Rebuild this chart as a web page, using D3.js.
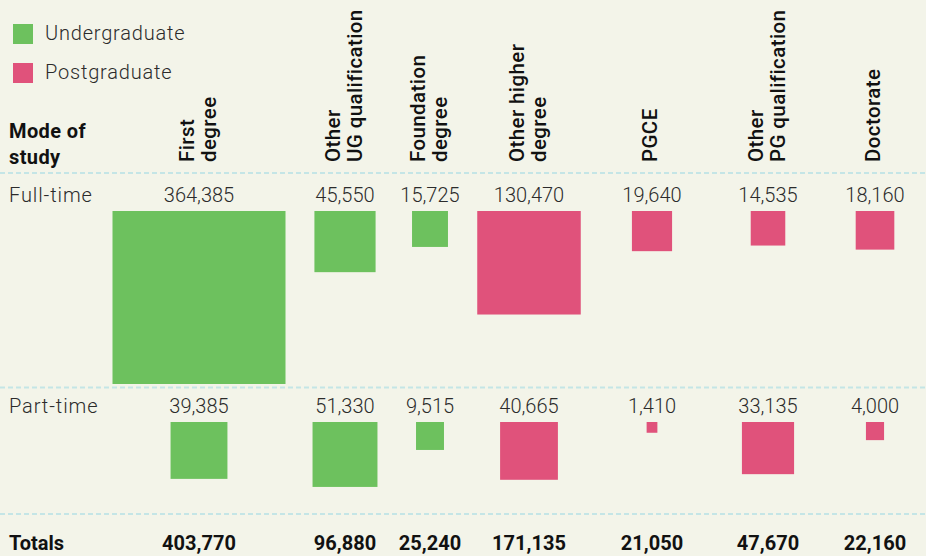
<!DOCTYPE html>
<html>
<head>
<meta charset="utf-8">
<script src="https://cdn.jsdelivr.net/npm/d3@7"></script>
<style>
  html, body { margin: 0; padding: 0; background: #f3f4e9; }
  svg { display: block; font-family: Roboto, "Noto Sans", sans-serif; }
</style>
</head>
<body>
<svg id="chart" width="926" height="556"></svg>
<script>
// data
const categories = ["First degree", "Other UG qualification", "Foundation degree",
  "Other higher degree", "PGCE", "Other PG qualification", "Doctorate"];
const headerLines = [["First", "degree"], ["Other", "UG qualification"], ["Foundation", "degree"],
  ["Other higher", "degree"], ["PGCE"], ["Other", "PG qualification"], ["Doctorate"]];
const levels = ["Undergraduate", "Undergraduate", "Undergraduate",
  "Postgraduate", "Postgraduate", "Postgraduate", "Postgraduate"];
const fullTime = [364385, 45550, 15725, 130470, 19640, 14535, 18160];
const partTime = [39385, 51330, 9515, 40665, 1410, 33135, 4000];
const totals = [403770, 96880, 25240, 171135, 21050, 47670, 22160];
const legendKeys = ["Undergraduate", "Postgraduate"];

const width = 926, height = 556;
const svg = d3.select("#chart");
const fmt = d3.format(",");

const color = d3.scaleOrdinal().domain(legendKeys).range(["#6dc15e", "#e0527b"]);

// column centres (uneven spacing as in the original table)
const x = d3.scaleOrdinal().domain(categories)
  .range([199, 345, 430, 529, 652, 768, 875]);

const side = d3.scaleSqrt()
  .domain([0, d3.max(fullTime.concat(partTime))])
  .range([0, 173]);

const rows = [
  { name: "Full-time", values: fullTime, labelY: 202, top: 211 },
  { name: "Part-time", values: partTime, labelY: 413, top: 422 }
];

// legend
const legend = svg.append("g").selectAll("g")
  .data(legendKeys)
  .join("g")
  .attr("transform", (d, i) => `translate(13,${24 + i * 39})`);
legend.append("rect")
  .attr("width", 20).attr("height", 20)
  .attr("fill", d => color(d));
legend.append("text")
  .attr("x", 32).attr("y", 15.5)
  .attr("font-size", 20).attr("font-weight", 300)
  .attr("letter-spacing", 0.8)
  .attr("fill", "#2b2b2b")
  .text(d => d);

// "Mode of study"
svg.append("text")
  .attr("x", 9).attr("y", 138)
  .attr("font-size", 20).attr("font-weight", 700).attr("fill", "#111")
  .attr("letter-spacing", 0.4)
  .selectAll("tspan")
  .data(["Mode of", "study"])
  .join("tspan")
  .attr("x", 9)
  .attr("dy", (d, i) => i ? 26 : 0)
  .text(d => d);

// rotated column headers
svg.append("g").selectAll("text")
  .data(categories)
  .join("text")
  .attr("transform", d => `translate(${x(d)},162) rotate(-90)`)
  .attr("font-size", 20.5).attr("font-weight", 500).attr("fill", "#111")
  .attr("letter-spacing", 0.4)
  .selectAll("tspan")
  .data((d, i) => headerLines[i].map((t, j, a) => ({ t, j, n: a.length })))
  .join("tspan")
  .attr("x", 0)
  .attr("y", d => d.n === 1 ? 5 : -5 + d.j * 22)
  .text(d => d.t);

// dashed separators
svg.append("g").selectAll("line")
  .data([173, 387.5, 514])
  .join("line")
  .attr("x1", 0).attr("x2", width)
  .attr("y1", d => d).attr("y2", d => d)
  .attr("stroke", "#c4e5e6").attr("stroke-width", 2)
  .attr("stroke-dasharray", "5,3");

// rows
rows.forEach(row => {
  const g = svg.append("g");
  g.append("text")
    .attr("x", 9).attr("y", row.labelY)
    .attr("font-size", 20).attr("font-weight", 300).attr("fill", "#2b2b2b")
    .attr("letter-spacing", 0.9)
    .text(row.name);

  g.selectAll("text.value")
    .data(categories)
    .join("text")
    .attr("class", "value")
    .attr("x", d => x(d)).attr("y", row.labelY)
    .attr("text-anchor", "middle")
    .attr("font-size", 20).attr("font-weight", 300).attr("fill", "#2b2b2b")
    .text((d, i) => fmt(row.values[i]));

  g.selectAll("rect")
    .data(categories)
    .join("rect")
    .attr("x", (d, i) => x(d) - side(row.values[i]) / 2)
    .attr("y", row.top)
    .attr("width", (d, i) => side(row.values[i]))
    .attr("height", (d, i) => side(row.values[i]))
    .attr("fill", (d, i) => color(levels[i]));
});

// totals
const tg = svg.append("g").attr("font-size", 20).attr("font-weight", 700).attr("fill", "#111");
tg.append("text").attr("x", 9).attr("y", 550).text("Totals");
tg.selectAll("text.total")
  .data(categories)
  .join("text")
  .attr("class", "total")
  .attr("x", d => x(d)).attr("y", 550)
  .attr("text-anchor", "middle")
  .text((d, i) => fmt(totals[i]));
</script>
</body>
</html>
